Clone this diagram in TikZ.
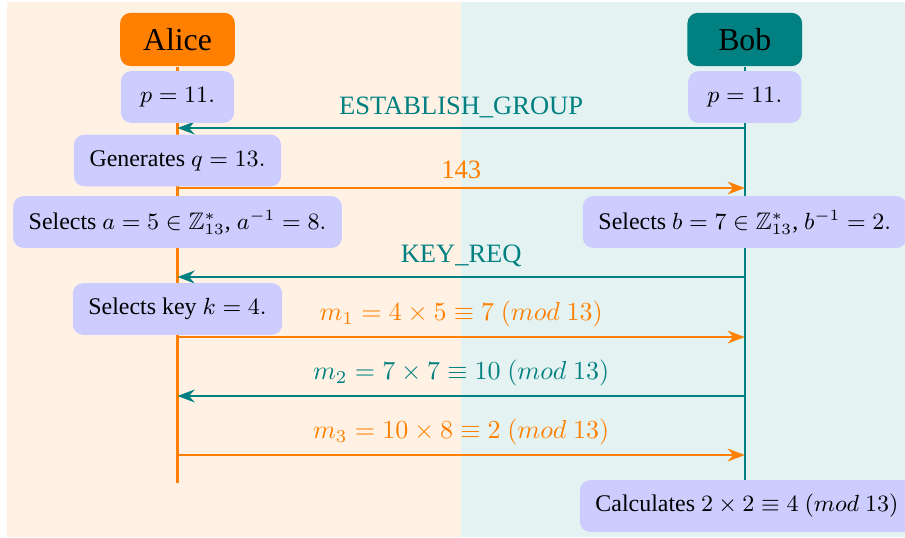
\documentclass[tikz,border=0pt]{standalone}
\usepackage{amsmath,amssymb}
\usepackage{fontspec}
\setmainfont{Liberation Serif}
\usetikzlibrary{positioning,arrows.meta,calc}
\definecolor{noteblue}{RGB}{204,204,255}

\begin{document}
\begin{tikzpicture}[
  font=\fontsize{10.2}{12}\selectfont,
  head/.style={rounded corners,minimum width=1.55cm,minimum height=0.72cm,font=\fontsize{12.25}{14}\selectfont},
  note/.style={fill=noteblue,rounded corners,minimum width=1.53cm,minimum height=0.7cm,inner xsep=6pt,font=\fontsize{9.2}{11}\selectfont},
  msg/.style={thick,-{Stealth}},
]
\useasboundingbox (0,0) rectangle (12.236,-7.261);
% two panels
\fill[orange!10] (0.095,-0.027) rectangle (6.233,-7.261);
\fill[teal!10] (6.233,-0.027) rectangle (12.236,-7.261);

% parties
\node[head,fill=orange] (alice) at (2.40,-0.534) {Alice};
\node[head,fill=teal] (bob) at (10.07,-0.534) {Bob};

% lifelines
\coordinate (aliceend) at (2.40,-6.531);
\coordinate (bobend) at (10.07,-6.531);
\draw[thick,orange] (alice) -- (aliceend);
\draw[thick,teal] (bob) -- (bobend);

% message points on both lifelines
\foreach \name/\y in {est/-1.731,num/-2.542,req/-3.745,mA/-4.557,mB/-5.354,mC/-6.152}{
  \coordinate (a-\name) at (2.40,\y);
  \coordinate (b-\name) at (10.07,\y);
}

% messages
\draw[msg,teal] (b-est) -- node[above] {ESTABLISH\_GROUP} (a-est);
\draw[msg,orange] (a-num) -- node[above] {143} (b-num);
\draw[msg,teal] (b-req) -- node[above] {KEY\_REQ} (a-req);
\draw[msg,orange] (a-mA) -- node[above] {$m_1=4\times5\equiv7\ (mod\ 13)$} (b-mA);
\draw[msg,teal] (b-mB) -- node[above] {$m_2=7\times7\equiv10\ (mod\ 13)$} (a-mB);
\draw[msg,orange] (a-mC) -- node[above] {$m_3=10\times8\equiv2\ (mod\ 13)$} (b-mC);

% local steps
\node[note] (alicep) at (2.40,-1.312) {$p=11.$};
\node[note] (bobp) at (10.07,-1.312) {$p=11.$};
\node[note] (gen) at (2.40,-2.170) {Generates $q=13.$};
\node[note] (sela) at (2.40,-3.002) {Selects $a=5\in\mathbb{Z}_{13}^{*}$, $a^{-1}=8.$};
\node[note] (selb) at (10.07,-3.002) {Selects $b=7\in\mathbb{Z}_{13}^{*}$, $b^{-1}=2.$};
\node[note] (key) at (2.40,-4.178) {Selects key $k=4.$};
\node[note] (calc) at (10.10,-6.842) {Calculates $2\times2\equiv4\ (mod\ 13)$};
\end{tikzpicture}
\end{document}
